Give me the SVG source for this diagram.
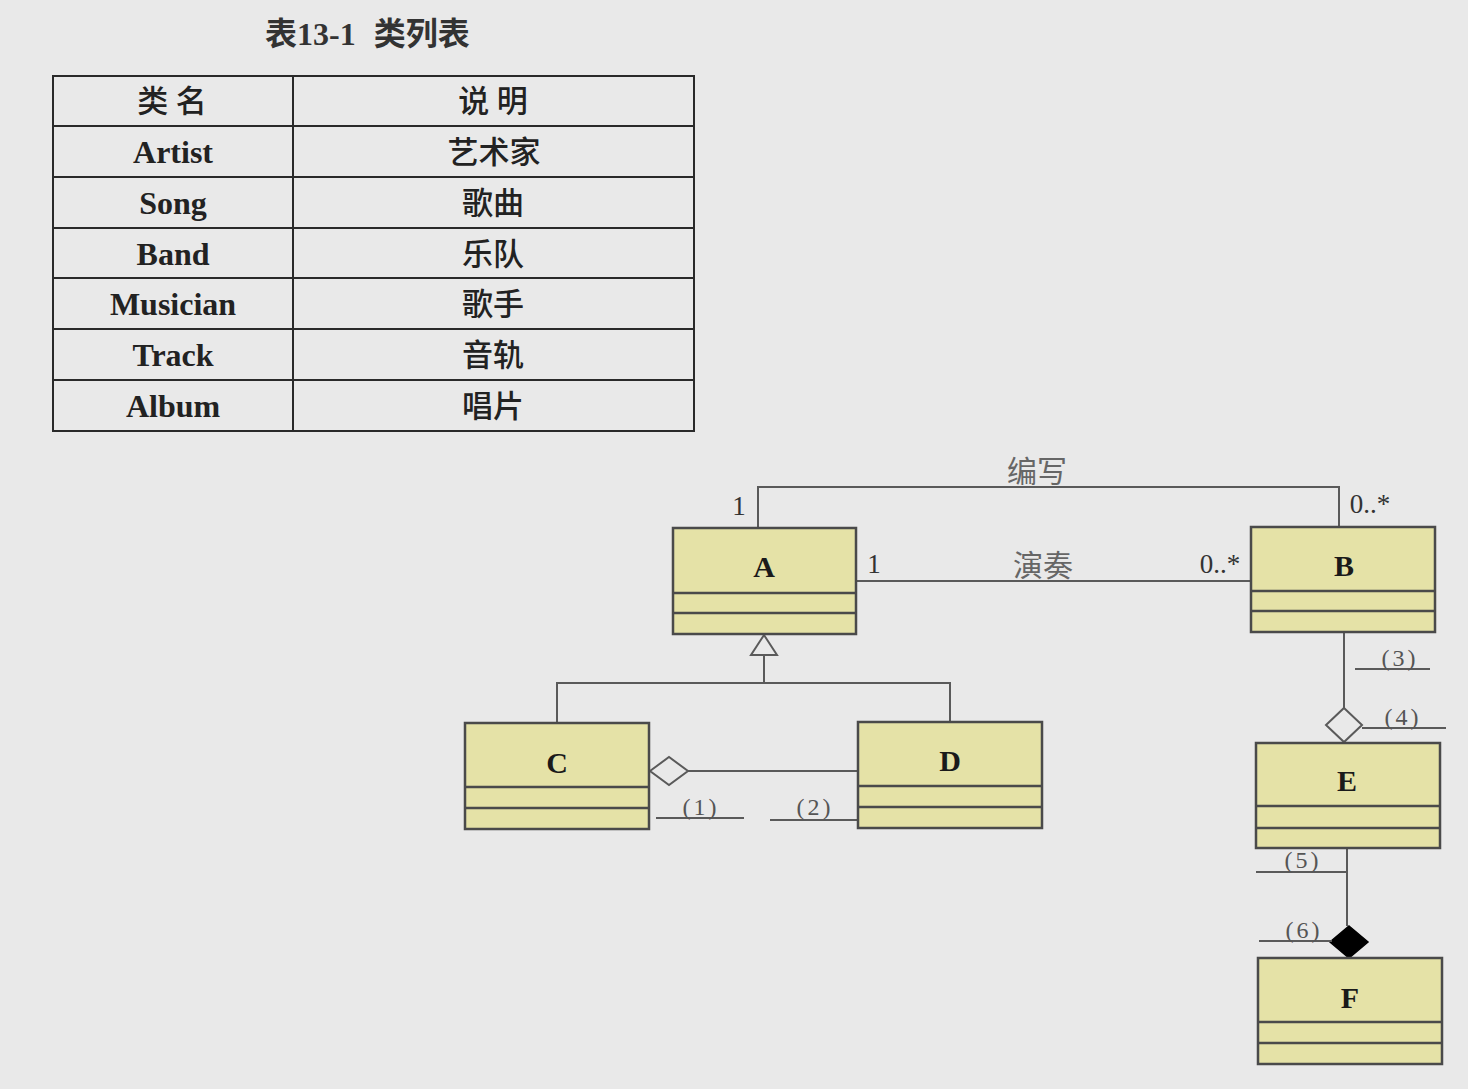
<svg xmlns="http://www.w3.org/2000/svg" width="1468" height="1089" viewBox="0 0 1468 1089">
<defs>
<style>
.bg{fill:#e9e9e9}
.cell{fill:none;stroke:#2a2a2a;stroke-width:2}
.th{font-family:"Liberation Serif","Noto Sans CJK SC",serif;font-size:31px;font-weight:500;fill:#222;text-anchor:middle}
.en{font-family:"Liberation Serif","Noto Sans CJK SC",serif;font-size:32px;font-weight:bold;fill:#222;text-anchor:middle}
.title{font-family:"Liberation Serif","Noto Sans CJK SC",serif;font-size:32px;font-weight:bold;fill:#333}
.box{fill:#e5e2a7;stroke:#4a4a4a;stroke-width:2.5}
.div{stroke:#4a4a4a;stroke-width:2.5}
.cn{font-family:"Liberation Serif",serif;font-size:30px;font-weight:bold;fill:#1a1a1a;text-anchor:middle}
.ln{fill:none;stroke:#5a5a5a;stroke-width:2}
.mul{font-family:"Liberation Serif",serif;font-size:27px;fill:#333;text-anchor:middle}
.lab{font-family:"Liberation Serif","Noto Sans CJK SC",serif;font-size:30px;fill:#666;text-anchor:middle}
.num{font-family:"Liberation Serif",serif;font-size:24px;fill:#555;text-anchor:middle;letter-spacing:3px}
</style>
</defs>
<rect class="bg" x="0" y="0" width="1468" height="1089"/>

<g id="table">
<text class="title" x="265" y="45">表13-1<tspan dx="18">类列表</tspan></text>
<rect class="cell" x="53" y="76" width="641" height="355"/>
<line class="cell" x1="293" y1="76" x2="293" y2="431"/>
<line class="cell" x1="53" y1="126" x2="694" y2="126"/>
<line class="cell" x1="53" y1="177" x2="694" y2="177"/>
<line class="cell" x1="53" y1="228" x2="694" y2="228"/>
<line class="cell" x1="53" y1="278" x2="694" y2="278"/>
<line class="cell" x1="53" y1="329" x2="694" y2="329"/>
<line class="cell" x1="53" y1="380" x2="694" y2="380"/>
<text class="th" x="172" y="112">类 名</text>
<text class="th" x="493" y="112">说 明</text>
<text class="en" x="173" y="163">Artist</text>
<text class="th" x="494" y="163">艺术家</text>
<text class="en" x="173" y="214">Song</text>
<text class="th" x="493" y="214">歌曲</text>
<text class="en" x="173" y="265">Band</text>
<text class="th" x="493" y="265">乐队</text>
<text class="en" x="173" y="315">Musician</text>
<text class="th" x="493" y="315">歌手</text>
<text class="en" x="173" y="366">Track</text>
<text class="th" x="493" y="366">音轨</text>
<text class="en" x="173" y="417">Album</text>
<text class="th" x="493" y="417">唱片</text>
</g>

<g id="connectors">
<polyline class="ln" points="758,528 758,487 1339,487 1339,527"/>
<line class="ln" x1="856" y1="581" x2="1251" y2="581"/>
<polyline class="ln" points="557,723 557,683 950,683 950,722"/>
<line class="ln" x1="764" y1="683" x2="764" y2="655"/>
<polygon points="764,635 751,655 777,655" fill="#e9e9e9" stroke="#5a5a5a" stroke-width="2"/>
<line class="ln" x1="688" y1="771" x2="858" y2="771"/>
<polygon points="650,771 669,757 688,771 669,785" fill="#e9e9e9" stroke="#5a5a5a" stroke-width="2"/>
<line class="ln" x1="1344" y1="632" x2="1344" y2="708"/>
<polygon points="1344,708 1362,725 1344,742 1326,725" fill="#e9e9e9" stroke="#5a5a5a" stroke-width="2"/>
<line class="ln" x1="1347" y1="848" x2="1347" y2="926"/>
<polygon points="1349,926 1368,942 1349,958 1330,942" fill="#000" stroke="#000" stroke-width="1.5"/>
<line class="ln" x1="656" y1="818" x2="744" y2="818"/>
<line class="ln" x1="770" y1="820" x2="858" y2="820"/>
<line class="ln" x1="1355" y1="669" x2="1430" y2="669"/>
<line class="ln" x1="1362" y1="728" x2="1446" y2="728"/>
<line class="ln" x1="1256" y1="872" x2="1347" y2="872"/>
<line class="ln" x1="1259" y1="941" x2="1332" y2="941"/>
<text class="lab" x="1037" y="482">编写</text>
<text class="mul" x="739" y="515">1</text>
<text class="mul" x="1370" y="513">0..*</text>
<text class="mul" x="874" y="573">1</text>
<text class="lab" x="1043" y="576">演奏</text>
<text class="mul" x="1220" y="573">0..*</text>
<text class="num" x="701" y="815">(1)</text>
<text class="num" x="815" y="815">(2)</text>
<text class="num" x="1400" y="666">(3)</text>
<text class="num" x="1403" y="725">(4)</text>
<text class="num" x="1303" y="868">(5)</text>
<text class="num" x="1304" y="938">(6)</text>
</g>

<g id="A">
<rect class="box" x="673" y="528" width="183" height="106"/>
<line class="div" x1="673" y1="593" x2="856" y2="593"/>
<line class="div" x1="673" y1="613" x2="856" y2="613"/>
<text class="cn" x="764" y="577">A</text>
</g>
<g id="B">
<rect class="box" x="1251" y="527" width="184" height="105"/>
<line class="div" x1="1251" y1="591" x2="1435" y2="591"/>
<line class="div" x1="1251" y1="611" x2="1435" y2="611"/>
<text class="cn" x="1344" y="576">B</text>
</g>
<g id="C">
<rect class="box" x="465" y="723" width="184" height="106"/>
<line class="div" x1="465" y1="787" x2="649" y2="787"/>
<line class="div" x1="465" y1="808" x2="649" y2="808"/>
<text class="cn" x="557" y="773">C</text>
</g>
<g id="D">
<rect class="box" x="858" y="722" width="184" height="106"/>
<line class="div" x1="858" y1="786" x2="1042" y2="786"/>
<line class="div" x1="858" y1="807" x2="1042" y2="807"/>
<text class="cn" x="950" y="771">D</text>
</g>
<g id="E">
<rect class="box" x="1256" y="743" width="184" height="105"/>
<line class="div" x1="1256" y1="806" x2="1440" y2="806"/>
<line class="div" x1="1256" y1="828" x2="1440" y2="828"/>
<text class="cn" x="1347" y="791">E</text>
</g>
<g id="F">
<rect class="box" x="1258" y="958" width="184" height="106"/>
<line class="div" x1="1258" y1="1022" x2="1442" y2="1022"/>
<line class="div" x1="1258" y1="1043" x2="1442" y2="1043"/>
<text class="cn" x="1350" y="1008">F</text>
</g>
</svg>
